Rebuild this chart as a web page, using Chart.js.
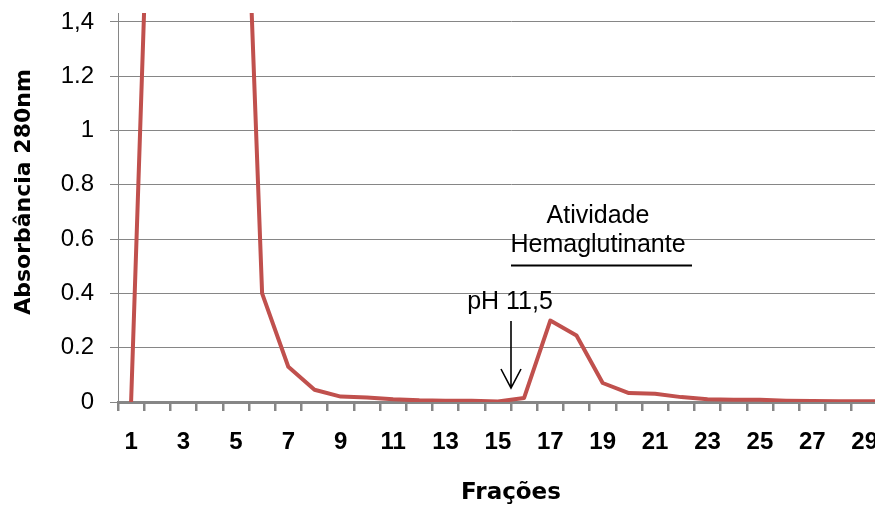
<!DOCTYPE html>
<html>
<head>
<meta charset="utf-8">
<script src="https://cdn.jsdelivr.net/npm/chart.js@4/dist/chart.umd.min.js"></script>
<style>
  html, body { margin:0; padding:0; background:#fff; overflow:hidden; width:875px; height:507px; }
  #wrap { position:absolute; left:0; top:0; width:904px; height:507px; }
</style>
</head>
<body>
<div id="wrap"><canvas id="c" width="904" height="507"></canvas></div>
<script>
// ---- data ----
const fractions = ['1','2','3','4','5','6','7','8','9','10','11','12','13','14','15',
                   '16','17','18','19','20','21','22','23','24','25','26','27','28','29','30'];
const absorbance = [0, 2.9, 3.2, 3.1, 3.0, 0.40, 0.13, 0.045, 0.02, 0.017, 0.01, 0.006, 0.005, 0.005, 0.002,
                    0.015, 0.30, 0.245, 0.07, 0.033, 0.03, 0.018, 0.01, 0.008, 0.008, 0.005, 0.004, 0.003, 0.003, 0.003];
const yTicks = [0, 0.2, 0.4, 0.6, 0.8, 1, 1.2, 1.4];
const yTickLabels = ['0', '0.2', '0.4', '0.6', '0.8', '1', '1.2', '1,4'];
const xTitle = 'Frações';
const yTitle = 'Absorbância 280nm';
const phLabel = 'pH 11,5';
const activityLabel = ['Atividade', 'Hemaglutinante'];

const lineColor = '#C0504D';
const gridColor = '#868686';
const sans = '"Liberation Sans", Arial, sans-serif';
const wide = '"DejaVu Sans", Verdana, sans-serif';

const annot = {
  id: 'annot',
  afterDraw(chart) {
    const { ctx, scales: { x, y } } = chart;
    ctx.save();
    ctx.fillStyle = '#000';
    ctx.strokeStyle = '#000';

    // y axis title
    ctx.save();
    ctx.translate(24.5, 192);
    ctx.rotate(-Math.PI / 2);
    ctx.font = 'bold 22px ' + wide;
    ctx.textAlign = 'center';
    ctx.textBaseline = 'middle';
    ctx.fillText(yTitle, 0, 0);
    ctx.restore();

    // pH arrow at the boundary between fractions 15 and 16
    const ax = (x.getPixelForValue(14) + x.getPixelForValue(15)) / 2;
    ctx.font = '25px ' + sans;
    ctx.textAlign = 'center';
    ctx.textBaseline = 'alphabetic';
    ctx.fillText(phLabel, ax - 1, 309);
    ctx.lineWidth = 1.6;
    ctx.beginPath();
    ctx.moveTo(ax, 321);
    ctx.lineTo(ax, 388);
    ctx.moveTo(ax - 10, 369);
    ctx.lineTo(ax, 388);
    ctx.lineTo(ax + 10, 369);
    ctx.stroke();

    // activity label
    const cx = 598;
    ctx.fillText(activityLabel[0], cx, 223);
    ctx.fillText(activityLabel[1], cx, 252);
    ctx.lineWidth = 2;
    ctx.beginPath();
    ctx.moveTo(511, 265.5);
    ctx.lineTo(692, 265.5);
    ctx.stroke();
    ctx.restore();
  }
};

new Chart(document.getElementById('c'), {
  type: 'line',
  data: {
    labels: fractions,
    datasets: [{
      data: absorbance,
      borderColor: lineColor,
      borderWidth: 4,
      pointRadius: 0,
      tension: 0,
      fill: false,
      clip: 0,
      borderJoinStyle: 'round'
    }]
  },
  options: {
    responsive: false,
    animation: false,
    devicePixelRatio: 1,
    layout: { padding: { top: 13, left: 0, right: 0, bottom: 0 } },
    plugins: { legend: { display: false }, tooltip: { enabled: false } },
    scales: {
      x: {
        type: 'category',
        offset: true,
        grid: { display: true, drawOnChartArea: false, drawTicks: true, tickLength: 9,
                color: gridColor, lineWidth: 2.5, offset: true },
        border: { display: true, color: gridColor, width: 3 },
        ticks: {
          autoSkip: false, maxRotation: 0, minRotation: 0, padding: 17, color: '#000',
          font: { family: sans, size: 24, weight: 'bold' },
          callback: (v, i) => (i % 2 === 0 ? fractions[i] : '')
        },
        title: { display: true, text: xTitle, color: '#000',
                 font: { family: wide, size: 23, weight: 'bold' }, padding: { top: 0, bottom: 0 } },
        afterFit: (s) => { s.height = 105; s.paddingLeft = 0; s.paddingRight = 0; }
      },
      y: {
        min: 0,
        max: 1.433,
        afterBuildTicks: (s) => { s.ticks = yTicks.map(v => ({ value: v })); },
        ticks: {
          padding: 16, color: '#000',
          font: { family: sans, size: 24, lineHeight: 1 },
          callback: (v, i) => yTickLabels[i]
        },
        grid: { color: gridColor, lineWidth: 1, tickLength: 8, drawTicks: true },
        border: { display: true, color: gridColor, width: 1 },
        afterFit: (s) => { s.width = 118; s.paddingTop = 0; s.paddingBottom = 0; }
      }
    }
  },
  plugins: [annot]
});
</script>
</body>
</html>
